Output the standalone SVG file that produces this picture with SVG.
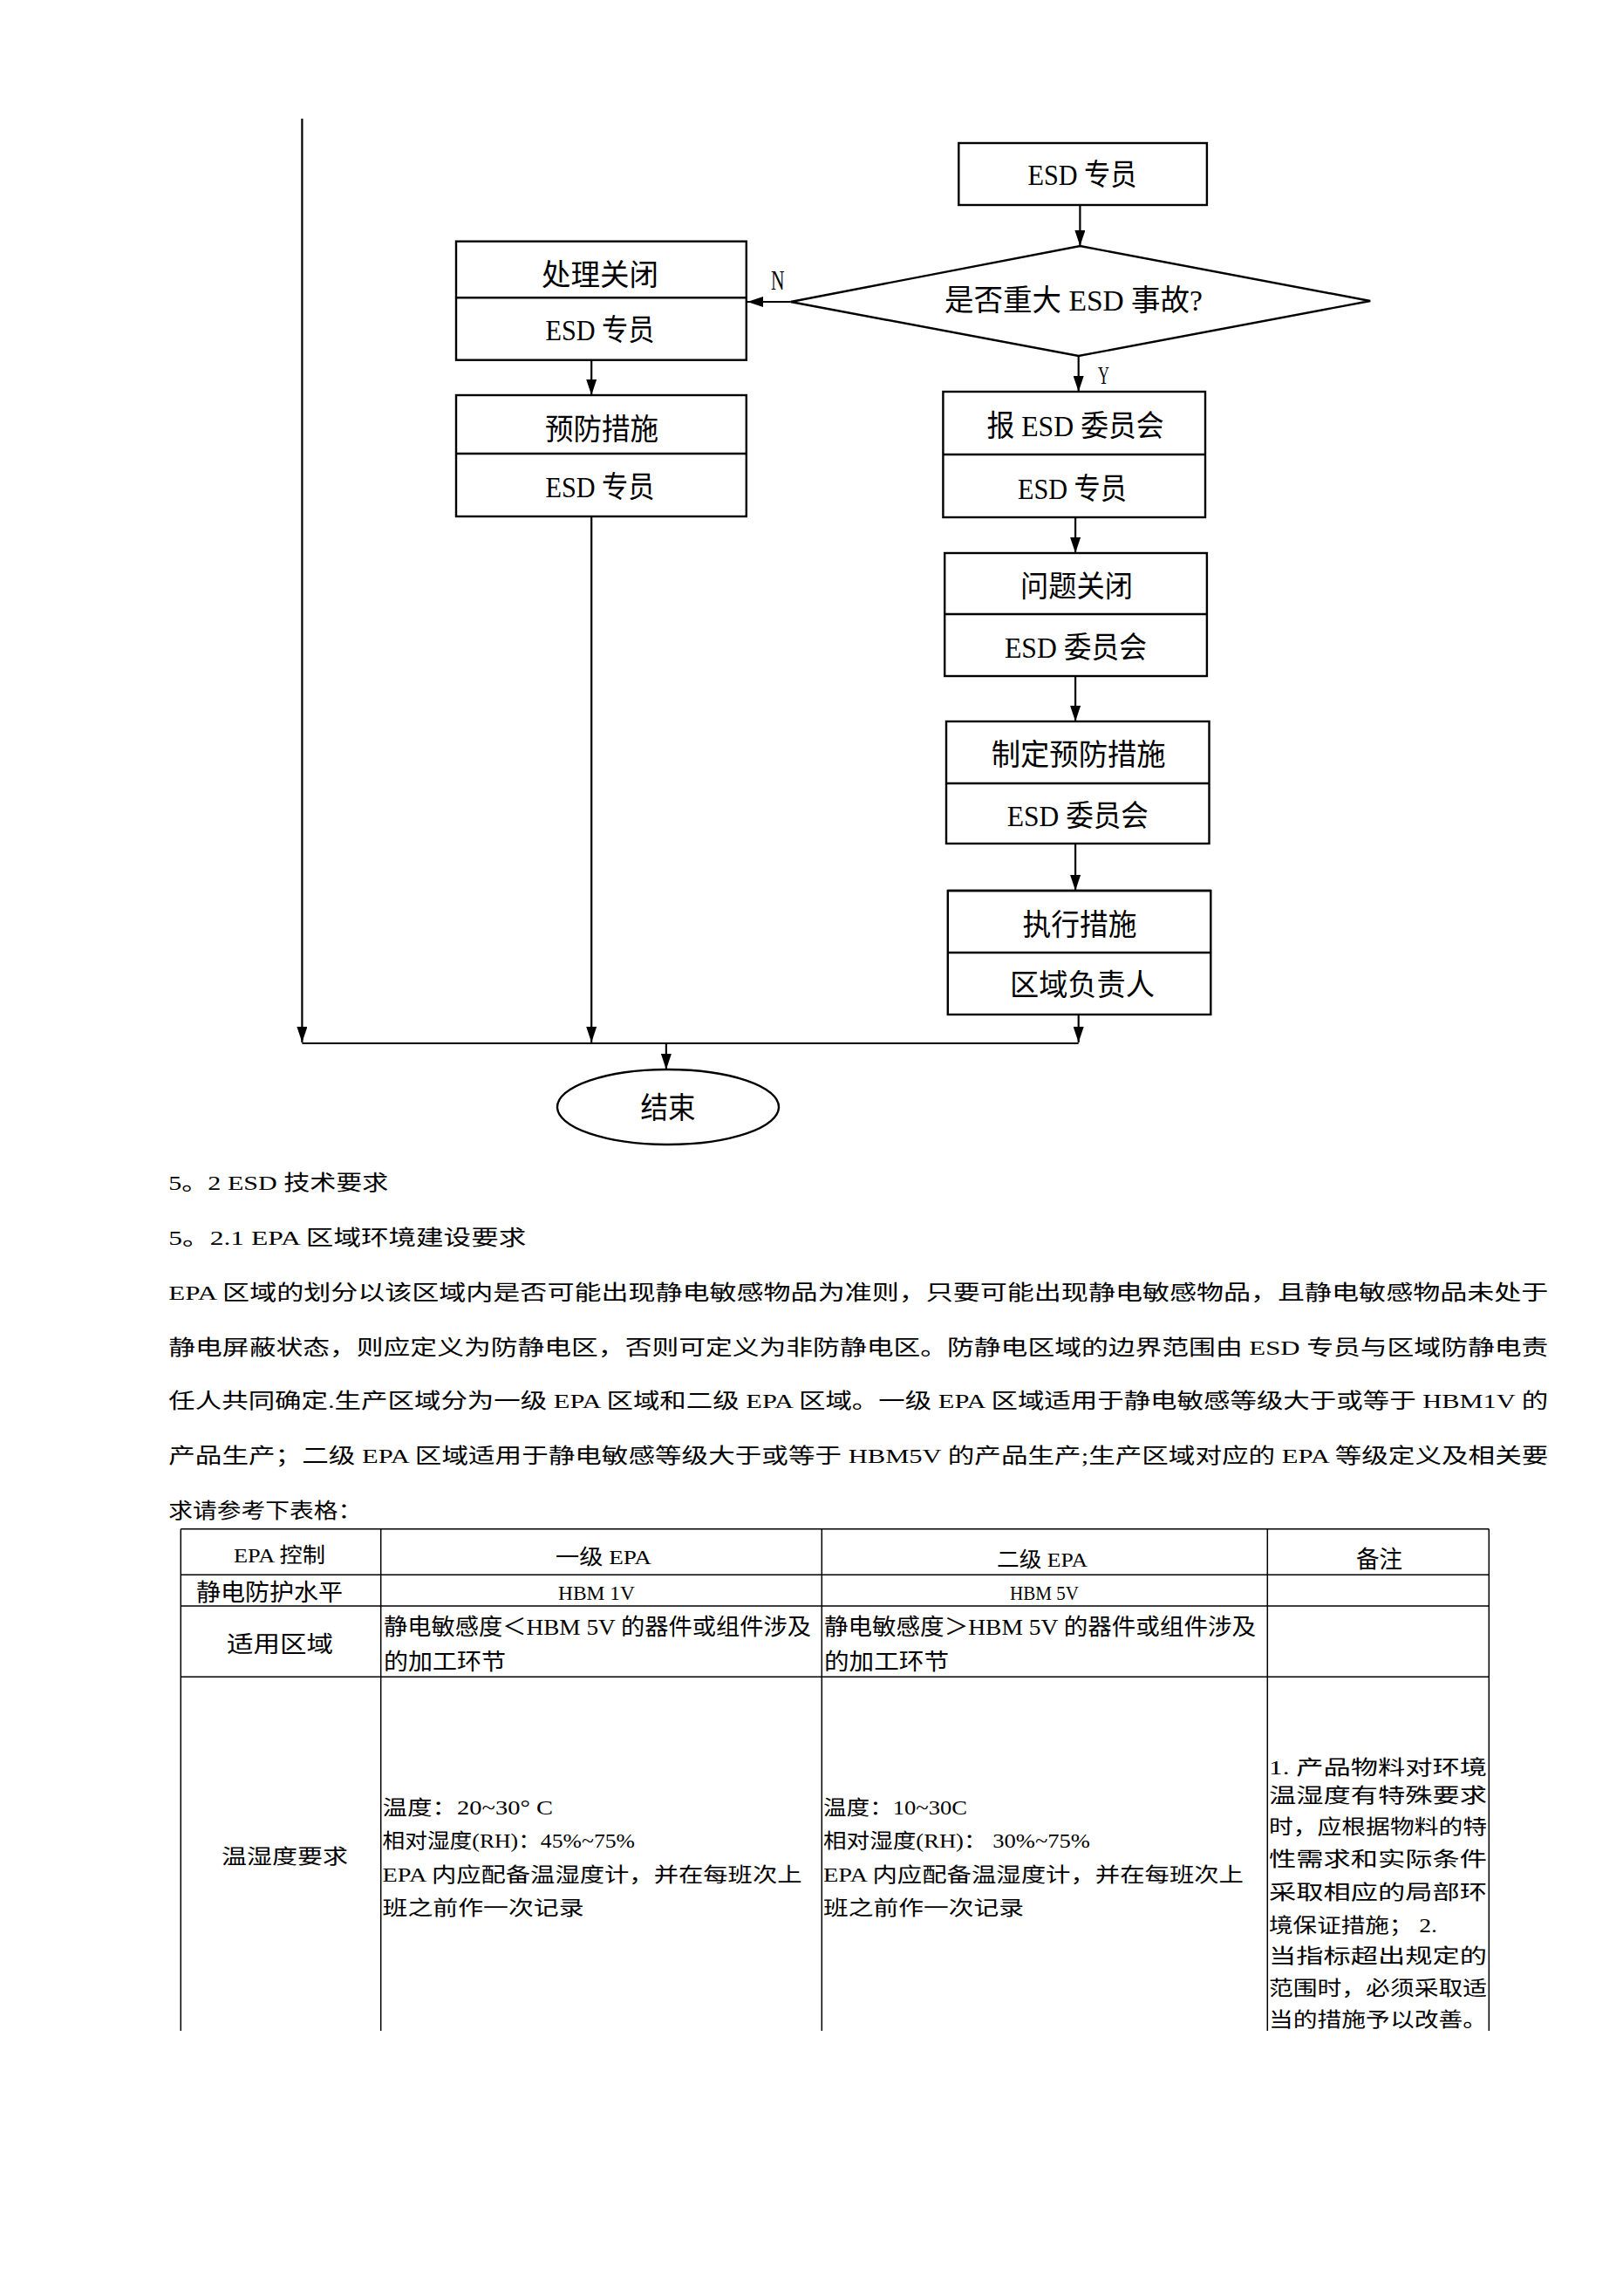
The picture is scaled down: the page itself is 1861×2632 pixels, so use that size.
<svg xmlns="http://www.w3.org/2000/svg" width="1861" height="2632" viewBox="0 0 1861 2632">
<style>
.ln{stroke:#000;stroke-width:2.2;fill:none}
.box{fill:#fff;stroke:#000;stroke-width:2.4}
.dv{stroke:#000;stroke-width:2.4}
.t{font-family:"Liberation Serif","Noto Sans CJK SC",serif;fill:#000}
.fc{font-size:34px;text-anchor:middle}
.bd{font-size:24px}
.tc{font-size:24px}
.tm{text-anchor:middle}
.tb{stroke:#000;stroke-width:1.5;fill:none}
</style>
<defs>
<marker id="ah" viewBox="0 0 18 12" refX="18" refY="6" markerWidth="18" markerHeight="12" markerUnits="userSpaceOnUse" orient="auto">
<path d="M0,0 L18,6 L0,12 z" fill="#000"/>
</marker>
</defs>
<rect x="0" y="0" width="1861" height="2632" fill="#fff"/>

<g id="connectors">
<path class="ln" d="M346.4,136 V1195" marker-end="url(#ah)"/>
<path class="ln" d="M1238.4,235 V282" marker-end="url(#ah)"/>
<path class="ln" d="M906.6,346 H857" marker-end="url(#ah)"/>
<path class="ln" d="M1236.7,408 V449" marker-end="url(#ah)"/>
<path class="ln" d="M678.2,413 V453" marker-end="url(#ah)"/>
<path class="ln" d="M678.2,592 V1195" marker-end="url(#ah)"/>
<path class="ln" d="M1233.1,593 V634" marker-end="url(#ah)"/>
<path class="ln" d="M1233.1,775 V827" marker-end="url(#ah)"/>
<path class="ln" d="M1233.1,967 V1021" marker-end="url(#ah)"/>
<path class="ln" d="M1236.7,1163 V1195" marker-end="url(#ah)"/>
<path class="ln" d="M346.4,1196 H1236.7"/>
<path class="ln" d="M763.9,1196 V1226" marker-end="url(#ah)"/>
<text class="t" x="884" y="332" font-size="32" textLength="15.5" lengthAdjust="spacingAndGlyphs">N</text>
<text class="t" x="1259" y="440" font-size="30" textLength="13" lengthAdjust="spacingAndGlyphs">Y</text>
</g>

<g id="n-esd-top">
<rect class="box" x="1099.3" y="164" width="284.6" height="71"/>
<text class="t fc" x="1241" y="212" textLength="125" lengthAdjust="spacingAndGlyphs">ESD 专员</text>
</g>

<g id="n-decision">
<polygon class="box" points="1238.4,282 1571.2,345 1236.7,408 906.6,346" stroke-width="2.8"/>
<text class="t fc" x="1231" y="356" font-size="35" textLength="296" lengthAdjust="spacingAndGlyphs">是否重大 ESD 事故?</text>
</g>

<g id="n-handle">
<rect class="box" x="523" y="276.7" width="332.8" height="136"/>
<line class="dv" x1="523" y1="341.3" x2="855.8" y2="341.3"/>
<text class="t fc" x="688" y="327" textLength="134" lengthAdjust="spacingAndGlyphs">处理关闭</text>
<text class="t fc" x="688" y="390" textLength="125" lengthAdjust="spacingAndGlyphs">ESD 专员</text>
</g>

<g id="n-prevent">
<rect class="box" x="523" y="453" width="332.8" height="139"/>
<line class="dv" x1="523" y1="520" x2="855.8" y2="520"/>
<text class="t fc" x="690" y="504" textLength="130" lengthAdjust="spacingAndGlyphs">预防措施</text>
<text class="t fc" x="688" y="570" textLength="125" lengthAdjust="spacingAndGlyphs">ESD 专员</text>
</g>

<g id="n-report">
<rect class="box" x="1081.4" y="449" width="300.6" height="144"/>
<line class="dv" x1="1081.4" y1="521" x2="1382" y2="521" stroke-width="3.5"/>
<text class="t fc" x="1233" y="500" textLength="203" lengthAdjust="spacingAndGlyphs">报 ESD 委员会</text>
<text class="t fc" x="1229.5" y="572" textLength="125" lengthAdjust="spacingAndGlyphs">ESD 专员</text>
</g>

<g id="n-close">
<rect class="box" x="1083.2" y="634" width="300.7" height="141"/>
<line class="dv" x1="1083.2" y1="704" x2="1383.9" y2="704"/>
<text class="t fc" x="1234.4" y="684" textLength="129" lengthAdjust="spacingAndGlyphs">问题关闭</text>
<text class="t fc" x="1233.5" y="754" textLength="163" lengthAdjust="spacingAndGlyphs">ESD 委员会</text>
</g>

<g id="n-define">
<rect class="box" x="1085" y="827" width="301.5" height="140"/>
<line class="dv" x1="1085" y1="898" x2="1386.5" y2="898"/>
<text class="t fc" x="1236.7" y="877" textLength="200" lengthAdjust="spacingAndGlyphs">制定预防措施</text>
<text class="t fc" x="1235.8" y="947" textLength="162" lengthAdjust="spacingAndGlyphs">ESD 委员会</text>
</g>

<g id="n-execute">
<rect class="box" x="1086.8" y="1021" width="301.5" height="142"/>
<line class="dv" x1="1086.8" y1="1021" x2="1388.3" y2="1021" stroke-width="4"/>
<line class="dv" x1="1086.8" y1="1092" x2="1388.3" y2="1092"/>
<text class="t fc" x="1238" y="1072" textLength="131" lengthAdjust="spacingAndGlyphs">执行措施</text>
<text class="t fc" x="1241" y="1141" textLength="166" lengthAdjust="spacingAndGlyphs">区域负责人</text>
</g>

<g id="n-end">
<ellipse class="box" cx="766" cy="1269" rx="127" ry="43" stroke-width="2.8"/>
<text class="t fc" x="766" y="1282" textLength="63" lengthAdjust="spacingAndGlyphs">结束</text>
</g>

<g id="body-text">
<text class="t bd" x="193.3" y="1364" textLength="252" lengthAdjust="spacingAndGlyphs">5。2 ESD 技术要求</text>
<text class="t bd" x="193.3" y="1427" textLength="410" lengthAdjust="spacingAndGlyphs">5。2.1 EPA 区域环境建设要求</text>
<text class="t bd" x="193.3" y="1490" textLength="1582" lengthAdjust="spacingAndGlyphs">EPA 区域的划分以该区域内是否可能出现静电敏感物品为准则，只要可能出现静电敏感物品，且静电敏感物品未处于</text>
<text class="t bd" x="193.3" y="1553" textLength="1582" lengthAdjust="spacingAndGlyphs">静电屏蔽状态，则应定义为防静电区，否则可定义为非防静电区。防静电区域的边界范围由 ESD 专员与区域防静电责</text>
<text class="t bd" x="193.3" y="1614" textLength="1582" lengthAdjust="spacingAndGlyphs">任人共同确定.生产区域分为一级 EPA 区域和二级 EPA 区域。一级 EPA 区域适用于静电敏感等级大于或等于 HBM1V 的</text>
<text class="t bd" x="193.3" y="1677" textLength="1582" lengthAdjust="spacingAndGlyphs">产品生产；二级 EPA 区域适用于静电敏感等级大于或等于 HBM5V 的产品生产;生产区域对应的 EPA 等级定义及相关要</text>
<text class="t bd" x="193.3" y="1740" textLength="222" lengthAdjust="spacingAndGlyphs">求请参考下表格：</text>
</g>

<g id="table">
<path class="tb" d="M207.3,1752.7 H1707.3 M207.3,1805.3 H1707.3 M207.3,1841 H1707.3 M207.3,1922.3 H1707.3"/>
<path class="tb" d="M207.3,1752.7 V2328 M436.7,1752.7 V2328 M942.3,1752.7 V2328 M1453.3,1752.7 V2328 M1707.3,1752.7 V2328"/>
<text class="t tc tm" x="320.5" y="1791" textLength="105" lengthAdjust="spacingAndGlyphs">EPA 控制</text>
<text class="t tc tm" x="692" y="1793" textLength="110" lengthAdjust="spacingAndGlyphs">一级 EPA</text>
<text class="t tc tm" x="1195" y="1796" textLength="104" lengthAdjust="spacingAndGlyphs">二级 EPA</text>
<text class="t tm" x="1581.5" y="1797" font-size="27" textLength="53" lengthAdjust="spacingAndGlyphs">备注</text>
<text class="t tm" x="309" y="1835" font-size="27" textLength="168" lengthAdjust="spacingAndGlyphs">静电防护水平</text>
<text class="t tc tm" x="684" y="1834" textLength="88" lengthAdjust="spacingAndGlyphs">HBM 1V</text>
<text class="t tc tm" x="1197.5" y="1834" textLength="79" lengthAdjust="spacingAndGlyphs">HBM 5V</text>
<text class="t tm" x="321" y="1894" font-size="26" textLength="122" lengthAdjust="spacingAndGlyphs">适用区域</text>
<text class="t" x="440" y="1874" font-size="26" textLength="490" lengthAdjust="spacingAndGlyphs">静电敏感度＜HBM 5V 的器件或组件涉及</text>
<text class="t" x="440" y="1914" font-size="26" textLength="140" lengthAdjust="spacingAndGlyphs">的加工环节</text>
<text class="t" x="945" y="1874" font-size="26" textLength="495" lengthAdjust="spacingAndGlyphs">静电敏感度＞HBM 5V 的器件或组件涉及</text>
<text class="t" x="945" y="1914" font-size="26" textLength="143" lengthAdjust="spacingAndGlyphs">的加工环节</text>
<text class="t tm" x="326.5" y="2136" font-size="23" textLength="145" lengthAdjust="spacingAndGlyphs">温湿度要求</text>
<g font-size="23">
<text class="t" x="438.5" y="2080" textLength="195.5" lengthAdjust="spacingAndGlyphs">温度：20~30° C</text>
<text class="t" x="438.5" y="2118" textLength="289.5" lengthAdjust="spacingAndGlyphs">相对湿度(RH)：45%~75%</text>
<text class="t" x="438.5" y="2157" textLength="481" lengthAdjust="spacingAndGlyphs">EPA 内应配备温湿度计，并在每班次上</text>
<text class="t" x="438.5" y="2195" textLength="231" lengthAdjust="spacingAndGlyphs">班之前作一次记录</text>
<text class="t" x="944" y="2080" textLength="165" lengthAdjust="spacingAndGlyphs">温度：10~30C</text>
<text class="t" x="944" y="2118" textLength="306" lengthAdjust="spacingAndGlyphs">相对湿度(RH)： 30%~75%</text>
<text class="t" x="944" y="2157" textLength="482" lengthAdjust="spacingAndGlyphs">EPA 内应配备温湿度计，并在每班次上</text>
<text class="t" x="944" y="2195" textLength="230" lengthAdjust="spacingAndGlyphs">班之前作一次记录</text>
<text class="t" x="1455" y="2034" textLength="250" lengthAdjust="spacingAndGlyphs">1. 产品物料对环境</text>
<text class="t" x="1455" y="2066" textLength="250" lengthAdjust="spacingAndGlyphs">温湿度有特殊要求</text>
<text class="t" x="1455" y="2102" textLength="250" lengthAdjust="spacingAndGlyphs">时，应根据物料的特</text>
<text class="t" x="1455" y="2139" textLength="250" lengthAdjust="spacingAndGlyphs">性需求和实际条件</text>
<text class="t" x="1455" y="2177" textLength="250" lengthAdjust="spacingAndGlyphs">采取相应的局部环</text>
<text class="t" x="1455" y="2215" textLength="193" lengthAdjust="spacingAndGlyphs">境保证措施； 2.</text>
<text class="t" x="1455" y="2250" textLength="250" lengthAdjust="spacingAndGlyphs">当指标超出规定的</text>
<text class="t" x="1455" y="2287" textLength="250" lengthAdjust="spacingAndGlyphs">范围时，必须采取适</text>
<text class="t" x="1455" y="2323" textLength="250" lengthAdjust="spacingAndGlyphs">当的措施予以改善。</text>
</g>
</g>
</svg>
